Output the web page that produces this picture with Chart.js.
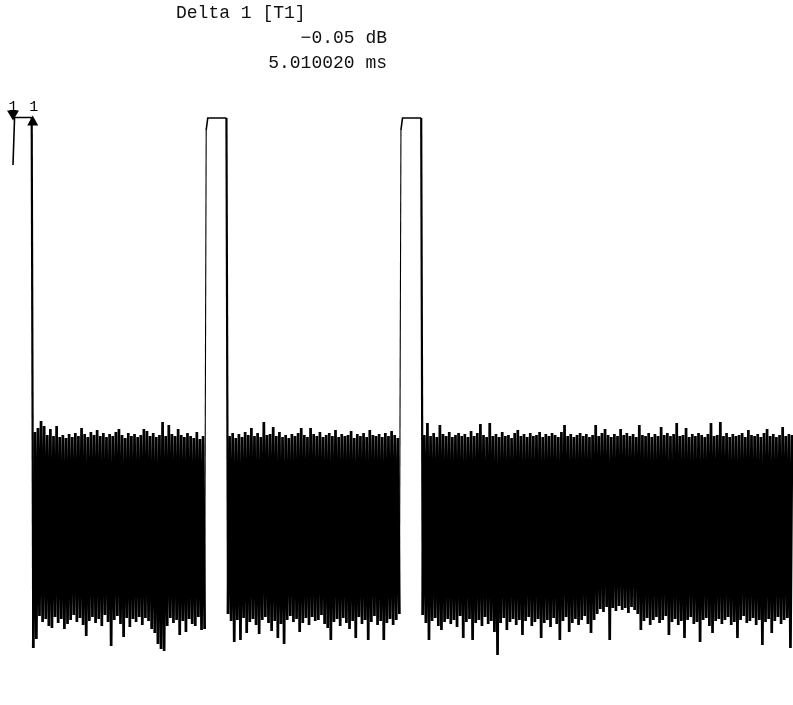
<!DOCTYPE html>
<html>
<head>
<meta charset="utf-8">
<script src="https://cdn.jsdelivr.net/npm/chart.js@4/dist/chart.umd.min.js"></script>
<style>
  body { margin: 0; background: #fff; }
  #wrap { position: relative; width: 793px; height: 705px; }
</style>
</head>
<body>
<div id="wrap"><canvas id="traceChart" width="793" height="705"></canvas></div>
<script>
// sweep: 501 points over 20 ms
const SWEEP_MS = 20;
const POINTS = 501;

// marker readout
const readout = ['Delta 1 [T1]', '\u22120.05 dB', '5.010020 ms'];
const markerTimes = [0.0, 0.48];     // ms
const markerLevels = [-3.75, -3.75]; // dB
const markerNames = ['1', '1'];

// trace levels in dB, left to right
const sweepStart = [-8.5];
const pulse1 = [-3.75, -3.75, -3.75, -3.75, -3.75, -3.75, -3.75, -3.75, -3.75, -3.75, -3.75, -3.75];
const burst1 = [
  -56.8, -35.2, -55.9, -34.8, -53.6, -34.1, -54.2, -34.6, -53.9, -35.5,
  -54.6, -34.9, -54.8, -35.6, -53.7, -34.6, -54.3, -35.7, -53.9, -35.5,
  -54.9, -35.8, -54.4, -35.4, -54.0, -35.7, -53.5, -35.3, -54.2, -35.6,
  -53.8, -34.8, -54.5, -35.4, -55.6, -35.7, -54.1, -35.2, -53.7, -35.5,
  -54.3, -35.0, -53.9, -35.6, -54.6, -35.3, -53.5, -35.7, -54.2, -35.4,
  -56.6, -35.6, -54.0, -35.2, -53.6, -34.9, -54.4, -35.5, -55.7, -35.8,
  -53.8, -35.3, -54.7, -35.6, -53.9, -35.4, -54.2, -35.7, -53.7, -35.5,
  -54.5, -34.9, -53.8, -35.1, -54.1, -35.6, -54.9, -35.3, -55.3, -35.7,
  -56.4, -35.5, -56.9, -34.2, -57.1, -35.6, -54.6, -34.5, -53.8, -35.4,
  -54.3, -35.6, -54.0, -34.9, -55.5, -35.5, -54.1, -35.7, -55.2, -35.3,
  -53.9, -35.6, -54.4, -35.8, -54.6, -35.2, -53.7, -35.9, -55.0, -35.6,
  -54.9
];
const rise2 = [-5.0];
const pulse2 = [-3.8, -3.8, -3.8, -3.8, -3.8, -3.8, -3.8, -3.8, -3.8, -3.8, -3.8, -3.8, -3.8];
const burst2 = [
  -53.4, -35.6, -54.1, -35.3, -56.2, -35.8, -54.0, -35.4, -56.0, -35.7,
  -53.8, -35.2, -55.3, -35.5, -54.2, -34.8, -53.9, -35.6, -54.5, -35.3,
  -55.4, -35.7, -54.0, -34.2, -53.7, -35.5, -54.3, -35.4, -55.1, -34.7,
  -54.1, -35.6, -55.8, -35.2, -54.4, -35.7, -56.4, -35.5, -54.0, -35.8,
  -53.6, -35.4, -54.2, -35.6, -53.9, -35.3, -55.2, -34.8, -54.3, -35.5,
  -53.8, -35.7, -54.5, -34.8, -53.7, -35.4, -54.1, -35.6, -54.0, -35.2,
  -53.5, -35.7, -54.4, -35.5, -54.8, -35.3, -56.0, -35.6, -54.2, -35.0,
  -53.9, -35.7, -54.6, -35.4, -53.8, -35.6, -54.3, -35.5, -54.9, -35.1,
  -54.1, -35.8, -55.8, -35.4, -53.7, -35.6, -54.4, -35.3, -54.0, -35.7,
  -56.0, -35.0, -54.2, -35.5, -53.6, -35.6, -54.5, -35.4, -54.1, -35.7,
  -56.0, -35.3, -54.3, -35.6, -53.9, -35.1, -54.5, -35.5, -54.0, -35.8,
  -53.4
];
const rise3 = [-5.0];
const pulse3 = [-3.8, -3.8, -3.8, -3.8, -3.8, -3.8, -3.8, -3.8, -3.8, -3.8, -3.8, -3.8, -3.8];
const burst3 = [
  -53.5, -35.5, -54.3, -34.3, -56.0, -35.6, -54.1, -35.3, -53.8, -35.7,
  -54.6, -34.5, -55.0, -35.4, -54.2, -35.6, -53.9, -35.2, -54.4, -35.7,
  -54.0, -35.5, -54.7, -35.3, -53.6, -35.6, -55.8, -35.4, -54.2, -35.7,
  -53.9, -35.1, -56.0, -35.6, -54.3, -35.3, -54.0, -34.4, -54.6, -35.5,
  -53.7, -35.7, -54.4, -34.3, -54.1, -35.6, -55.2, -35.4, -57.5, -35.7,
  -54.3, -35.2, -53.8, -35.6, -55.0, -35.5, -54.2, -35.8, -53.9, -35.3,
  -54.5, -35.0, -54.0, -35.6, -55.5, -35.4, -54.1, -35.7, -53.7, -35.3,
  -54.6, -35.6, -54.2, -35.5, -53.9, -35.2, -55.8, -35.7, -54.3, -35.4,
  -54.0, -35.6, -54.7, -35.3, -53.8, -35.5, -54.4, -35.7, -56.0, -35.2,
  -54.1, -34.5, -53.7, -35.6, -55.2, -35.4, -54.3, -35.7, -53.9, -35.5,
  -54.5, -35.3, -54.0, -35.6, -53.6, -35.4, -54.4, -35.7, -55.3, -35.5,
  -54.0, -34.5, -53.4, -35.6, -52.9, -35.3, -53.2, -34.9, -52.7, -35.5,
  -56.0, -35.7, -52.8, -35.4, -53.1, -35.6, -52.6, -34.9, -53.0, -35.5,
  -52.8, -35.3, -53.3, -35.6, -52.7, -35.4, -53.0, -35.7, -53.4, -34.5,
  -55.0, -35.5, -54.1, -35.6, -53.8, -35.3, -54.5, -35.7, -54.0, -35.4,
  -53.7, -35.6, -54.3, -34.7, -54.0, -35.5, -53.6, -35.3, -55.5, -35.6,
  -54.2, -35.4, -53.9, -34.3, -54.5, -35.6, -54.1, -35.5, -55.8, -34.8,
  -54.0, -35.7, -53.7, -35.4, -54.4, -35.6, -54.2, -35.3, -56.2, -35.5,
  -54.0, -35.7, -53.8, -35.4, -54.6, -34.3, -55.3, -35.6, -54.1, -35.5,
  -53.9, -34.2, -54.4, -35.6, -54.0, -35.3, -53.7, -35.7, -54.5, -35.4,
  -54.2, -35.6, -55.8, -35.5, -54.0, -35.3, -53.6, -35.7, -54.3, -35.0,
  -54.1, -35.5, -53.8, -35.6, -54.5, -35.4, -54.0, -35.7, -56.5, -35.3,
  -54.2, -34.9, -53.9, -35.6, -55.3, -35.4, -54.1, -35.7, -53.7, -35.5,
  -54.4, -34.7, -54.0, -35.6, -53.8, -35.4, -56.8, -35.5
];

const levels = [].concat(sweepStart, pulse1, burst1, rise2, pulse2, burst2, rise3, pulse3, burst3);
const dt = SWEEP_MS / (POINTS - 1);
const trace = levels.map((v, i) => ({ x: i * dt, y: v }));

// noise and falling edges are drawn heavier than the pulse tops and rising edges
const PULSE_LEVEL = -20;
const segmentWidth = (ctx) => {
  const a = ctx.p0.parsed.y, b = ctx.p1.parsed.y;
  if (a < PULSE_LEVEL && b < PULSE_LEVEL) return 2.7;
  if (a > PULSE_LEVEL && b < PULSE_LEVEL) return 2.2;
  if (a > PULSE_LEVEL && b > PULSE_LEVEL) return 1.6;
  return 1.1;
};

// marker triangles, labels and the readout block
const markerPlugin = {
  id: 'markers',
  afterDatasetsDraw(chart) {
    const ctx = chart.ctx;
    const xs = chart.scales.x, ys = chart.scales.y;
    ctx.save();
    ctx.fillStyle = '#000';
    markerTimes.forEach((t, k) => {
      const px = xs.getPixelForValue(t);
      const py = ys.getPixelForValue(markerLevels[k]);
      ctx.beginPath();
      if (k === 0) {
        // normal marker: pointing down onto the trace
        ctx.moveTo(px - 6, py - 7);
        ctx.lineTo(px + 6, py - 7);
        ctx.lineTo(px, py + 3);
      } else {
        // delta marker: pointing up
        ctx.moveTo(px + 1, py - 2);
        ctx.lineTo(px - 4.5, py + 8);
        ctx.lineTo(px + 6.5, py + 8);
      }
      ctx.closePath();
      ctx.fill();
      ctx.font = '15px "Liberation Mono"';
      ctx.textAlign = 'center';
      ctx.textBaseline = 'alphabetic';
      ctx.fillText(markerNames[k], px + (k === 0 ? 0 : 2), py - 7);
    });

    ctx.fillStyle = '#111';
    ctx.font = '18px "Liberation Mono"';
    ctx.textAlign = 'left';
    ctx.fillText(readout[0], 176, 18);
    ctx.textAlign = 'right';
    ctx.fillText(readout[1], 387, 43);
    ctx.fillText(readout[2], 387, 68);
    ctx.restore();
  }
};

new Chart(document.getElementById('traceChart').getContext('2d'), {
  type: 'line',
  data: {
    datasets: [{
      label: 'Trace 1',
      data: trace,
      borderColor: '#000',
      borderWidth: 1.6,
      segment: { borderWidth: segmentWidth },
      pointRadius: 0,
      tension: 0,
      fill: false,
      clip: false
    }]
  },
  options: {
    responsive: false,
    animation: false,
    layout: { padding: { top: 80, bottom: 25, left: 13, right: 1 } },
    scales: {
      x: { type: 'linear', min: 0, max: SWEEP_MS, display: false },
      y: { min: -60, max: 0, display: false }
    },
    plugins: {
      legend: { display: false },
      tooltip: { enabled: false }
    }
  },
  plugins: [markerPlugin]
});
</script>
</body>
</html>
